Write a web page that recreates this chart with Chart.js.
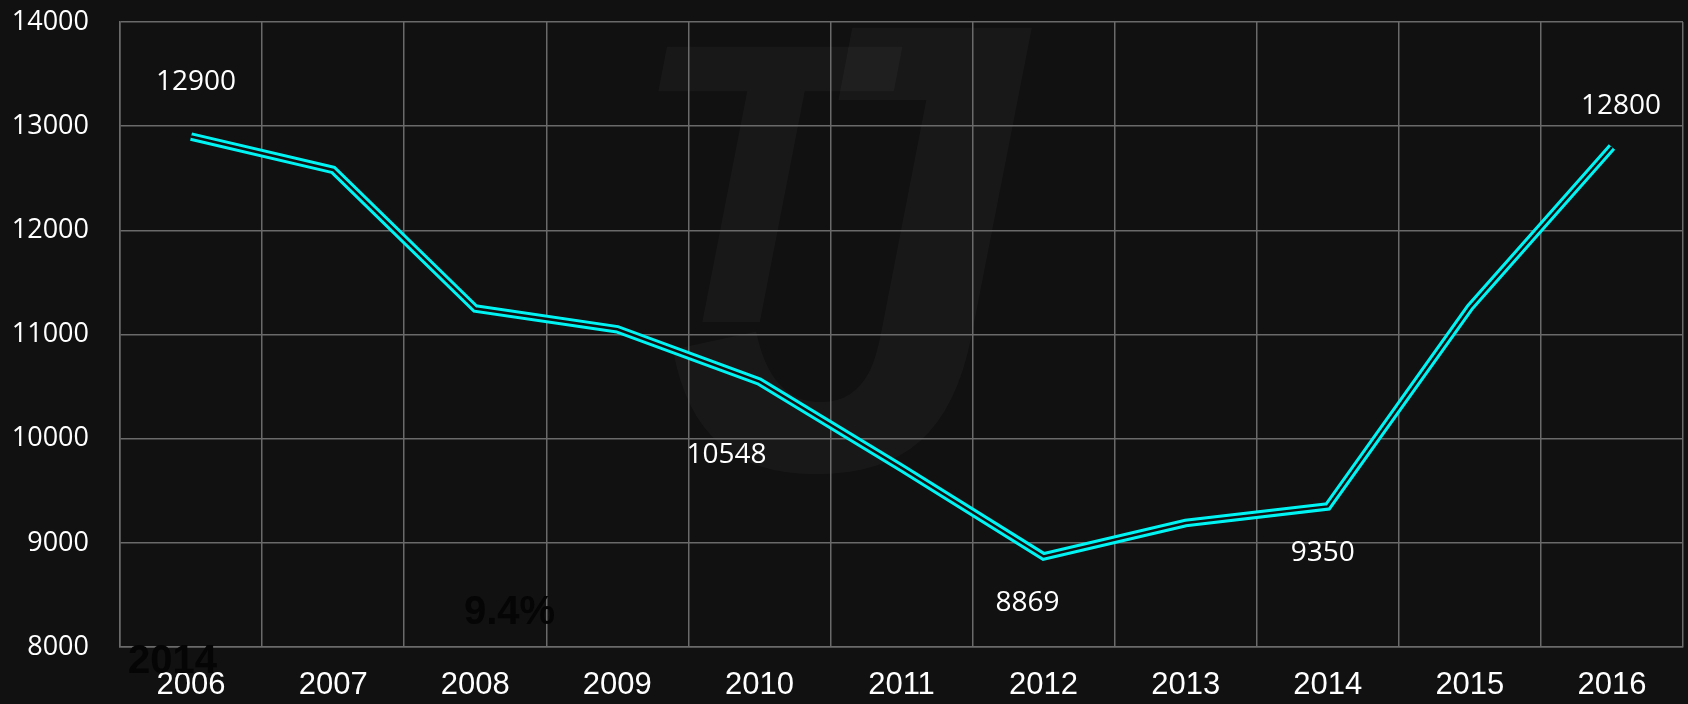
<!DOCTYPE html>
<html>
<head>
<meta charset="utf-8">
<script src="https://cdn.jsdelivr.net/npm/chart.js@4.4.0/dist/chart.umd.min.js"></script>
<style>
  html, body { margin: 0; padding: 0; background: #111111; }
  #wrap { width: 1688px; height: 704px; }
</style>
</head>
<body>
<div id="wrap"><canvas id="chart"></canvas></div>
<script>
const years = ["2006", "2007", "2008", "2009", "2010", "2011", "2012", "2013", "2014", "2015", "2016"];
const values = [12900, 12580, 11250, 11050, 10548, 9720, 8869, 9190, 9350, 11260, 12800];
const yTicks = [8000, 9000, 10000, 11000, 12000, 13000, 14000];
// which points carry a value label
const labelledPoints = [0, 4, 6, 8, 10];

// label offsets from the point (px)
const labelOffsets = {
  0: [5, -55],
  4: [-33, 73],
  6: [-16, 47],
  8: [-5, 47],
  10: [9, -41],
};

const gridColor = "#6a6a6a";
const cyan = "#00f4f4";
const bg = "#111111";

// faint watermark + dark overlay text from the source image
const backdrop = {
  id: "backdrop",
  beforeDraw(chart) {
    const ctx = chart.ctx;
    ctx.save();
    ctx.fillStyle = "rgba(255,255,255,0.032)";
    ctx.textBaseline = "alphabetic";
    ctx.font = "italic bold 400px 'Liberation Sans', Arial, sans-serif";
    ctx.fillText("T", 630, 322);
    ctx.font = "italic bold 640px 'Liberation Sans', Arial, sans-serif";
    ctx.fillText("J", 665, 468);
    ctx.restore();
  },
  afterDraw(chart) {
    const ctx = chart.ctx;
    ctx.save();
    ctx.fillStyle = "#050505";
    ctx.font = "bold 40px 'Liberation Sans', Arial, sans-serif";
    ctx.textBaseline = "middle";
    ctx.fillText("9.4%", 464, 613);
    ctx.fillText("2014", 128, 662);
    ctx.restore();
  },
};

const valueLabels = {
  id: "valueLabels",
  afterDatasetsDraw(chart) {
    const ctx = chart.ctx;
    const meta = chart.getDatasetMeta(1);
    ctx.save();
    ctx.fillStyle = "#ffffff";
    ctx.font = "28px 'Open Sans', sans-serif";
    ctx.textAlign = "center";
    ctx.textBaseline = "middle";
    labelledPoints.forEach((i) => {
      const p = meta.data[i];
      const off = labelOffsets[i];
      ctx.fillText(String(values[i]), p.x + off[0], p.y + off[1]);
    });
    ctx.restore();
  },
};

new Chart(document.getElementById("chart"), {
  type: "line",
  data: {
    labels: years,
    datasets: [
      {
        // dark centre stroke -> gives the double line look
        data: values,
        borderColor: bg,
        borderWidth: 2.5,
        pointRadius: 0,
        borderCapStyle: "butt",
        borderJoinStyle: "miter",
        tension: 0,
        order: 0,
      },
      {
        data: values,
        borderColor: cyan,
        borderWidth: 8.5,
        pointRadius: 0,
        borderCapStyle: "butt",
        borderJoinStyle: "miter",
        tension: 0,
        order: 1,
      },
    ],
  },
  options: {
    responsive: true,
    maintainAspectRatio: false,
    animation: false,
    layout: { padding: { left: 12, top: 22, right: 5, bottom: 0 } },
    plugins: {
      legend: { display: false },
      tooltip: { enabled: false },
    },
    scales: {
      x: {
        offset: true,
        afterFit: (axis) => {
          axis.height = 57;
          axis.paddingLeft = 0;
          axis.paddingRight = 0;
        },
        grid: { color: gridColor, lineWidth: 1.5, offset: true, drawTicks: false },
        border: { color: gridColor, width: 1.5 },
        ticks: {
          color: "#ffffff",
          padding: 20,
          font: { family: "'Liberation Sans', Arial, sans-serif", size: 31 },
        },
      },
      y: {
        min: 8000,
        max: 14000,
        afterBuildTicks: (axis) => {
          axis.ticks = yTicks.map((v) => ({ value: v }));
        },
        afterFit: (axis) => {
          // keep the tick padding from pushing the plot around
          axis.width = 108;
          axis.paddingTop = 0;
          axis.paddingBottom = 0;
        },
        grid: { color: gridColor, lineWidth: 1.5, drawTicks: false },
        border: { color: gridColor, width: 1.5 },
        ticks: {
          color: "#ffffff",
          padding: 31,
          font: { family: "'Open Sans', sans-serif", size: 27 },
          callback: (v) => String(v),
        },
      },
    },
  },
  plugins: [backdrop, valueLabels],
});
</script>
</body>
</html>
